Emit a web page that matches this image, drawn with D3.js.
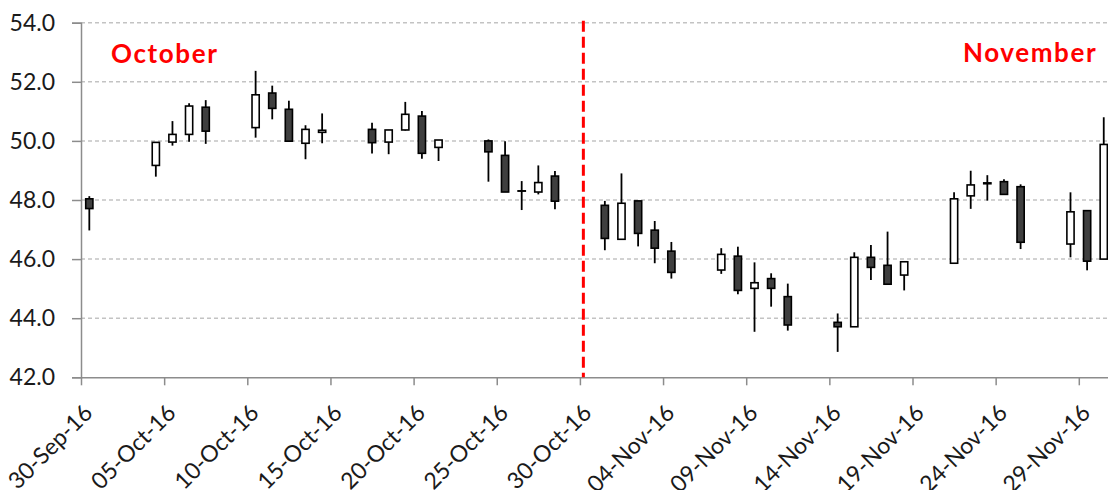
<!DOCTYPE html>
<html>
<head>
<meta charset="utf-8">
<script src="https://cdn.jsdelivr.net/npm/d3@7"></script>
<style>
  html, body { margin: 0; padding: 0; background: #fff; }
  svg { display: block; }
</style>
</head>
<body>
<svg id="chart" width="1108" height="490"></svg>
<script>
const dates = ["2016-09-30","2016-10-04","2016-10-05","2016-10-06","2016-10-07","2016-10-10","2016-10-11","2016-10-12","2016-10-13","2016-10-14",
  "2016-10-17","2016-10-18","2016-10-19","2016-10-20","2016-10-21","2016-10-24","2016-10-25","2016-10-26","2016-10-27","2016-10-28",
  "2016-10-31","2016-11-01","2016-11-02","2016-11-03","2016-11-04","2016-11-07","2016-11-08","2016-11-09","2016-11-10","2016-11-11",
  "2016-11-14","2016-11-15","2016-11-16","2016-11-17","2016-11-18","2016-11-21","2016-11-22","2016-11-23","2016-11-24","2016-11-25",
  "2016-11-28","2016-11-29","2016-11-30"];
const opens  = [48.04,49.17,49.96,50.22,51.14,50.45,51.62,51.07,49.92,50.29, 50.39,49.96,50.37,50.84,49.78,50.00,49.51,48.30,48.27,48.81,
  47.82,46.67,47.97,46.98,46.27,45.63,46.10,45.01,45.34,44.73, 43.86,43.71,46.06,45.79,45.46,45.86,48.14,48.55,48.62,48.45, 46.51,47.64,46.00];
const highs  = [48.13,49.95,50.67,51.27,51.38,52.37,51.87,51.36,50.53,50.93, 50.61,50.37,51.32,51.01,50.03,50.05,49.99,48.64,49.17,48.98,
  47.97,48.90,47.97,47.29,46.58,46.37,46.42,45.89,45.52,45.17, 44.16,46.23,46.48,46.93,45.91,48.26,48.99,48.84,48.70,48.53, 48.26,47.64,50.80];
const lows   = [46.97,48.79,49.84,49.97,49.90,50.11,50.73,49.99,49.38,49.92, 49.57,49.55,50.35,49.40,49.32,48.62,48.27,47.66,48.19,47.69,
  46.30,46.67,46.43,45.86,45.34,45.50,44.81,43.54,44.39,43.58, 42.86,43.71,45.29,45.15,44.94,45.86,47.70,47.98,48.17,46.34, 46.06,45.62,46.00];
const closes = [47.71,49.95,50.22,51.18,50.33,51.56,51.10,49.99,50.39,50.36, 49.94,50.37,50.90,49.58,50.03,49.63,48.27,48.31,48.59,47.96,
  46.70,47.89,46.87,46.37,45.55,46.16,44.94,45.20,45.01,43.77, 43.71,46.06,45.72,45.15,45.91,48.04,48.51,48.58,48.19,46.57, 47.60,45.93,49.88];
const tickDates = ["2016-09-30","2016-10-05","2016-10-10","2016-10-15","2016-10-20","2016-10-25","2016-10-30",
  "2016-11-04","2016-11-09","2016-11-14","2016-11-19","2016-11-24","2016-11-29"];
const yTicks = [42,44,46,48,50,52,54];
const monthLabels = ["October","November"];
const dividerDate = "2016-10-30T05:00:00Z";

(function(){
const parse = d3.utcParse("%Y-%m-%d");
const data = dates.map((d,i)=>({date: parse(d), open: opens[i], high: highs[i], low: lows[i], close: closes[i]}));

const svg = d3.select("#chart");
const plotLeft = 81, plotTop = 22.7, plotBottom = 377.3;
const dayW = 16.63;
const x = d3.scaleUtc().domain([parse("2016-09-30"), parse("2016-12-01")]).range([plotLeft, plotLeft + 62*dayW]);
const y = d3.scaleLinear().domain([42,54]).range([plotBottom, plotTop]);
const font = "Lato, Carlito, 'Liberation Sans', Arial, sans-serif";

// gridlines
svg.append("g").selectAll("line").data(yTicks.filter(t=>t>42)).join("line")
  .attr("x1", plotLeft).attr("x2", 1108)
  .attr("y1", d=>y(d)).attr("y2", d=>y(d))
  .attr("stroke", "#c3c3c3").attr("stroke-width", 1.5).attr("stroke-dasharray", "4,3");

// y axis
const yAxis = svg.append("g").attr("transform", `translate(${plotLeft},0)`)
  .call(d3.axisLeft(y).tickValues(yTicks).tickFormat(d3.format(".1f")).tickSize(9).tickPadding(17));
yAxis.select(".domain").attr("stroke", "#8c8c8c").attr("stroke-width", 1.5);
yAxis.selectAll(".tick line").attr("stroke", "#8c8c8c").attr("stroke-width", 1.5);
yAxis.selectAll(".tick text").attr("font-family", font).attr("font-size", 23).attr("fill", "#1a1a1a");

// x axis
const xAxis = svg.append("g").attr("transform", `translate(0,${plotBottom})`)
  .call(d3.axisBottom(x).tickValues(tickDates.map(parse)).tickFormat(d3.utcFormat("%d-%b-%y")).tickSize(8).tickSizeOuter(0));
xAxis.select(".domain").attr("stroke", "#8c8c8c").attr("stroke-width", 1.5).attr("d", `M${plotLeft},0.5H1108`);
xAxis.selectAll(".tick line").attr("stroke", "#8c8c8c").attr("stroke-width", 1.5);
xAxis.selectAll(".tick text")
  .attr("font-family", font).attr("font-size", 23).attr("fill", "#1a1a1a")
  .attr("text-anchor", "end").attr("dy", 0).attr("y", 0)
  .attr("transform", "translate(12.5,37) rotate(-45)");

// candles
const cx = d => x(d3.utcHour.offset(d.date, 12));
const candles = svg.append("g").selectAll("g").data(data).join("g");
candles.append("line")
  .attr("x1", cx).attr("x2", cx)
  .attr("y1", d=>y(d.high)).attr("y2", d=>y(d.low))
  .attr("stroke", "#000").attr("stroke-width", 1.8);
candles.append("rect")
  .attr("x", d=>cx(d)-3.6).attr("width", 7.2)
  .attr("y", d=>y(Math.max(d.open,d.close)))
  .attr("height", d=>Math.max(0.3, Math.abs(y(d.open)-y(d.close))))
  .attr("fill", d=>d.close>=d.open ? "#ffffff" : "#3f3f3f")
  .attr("stroke", "#000").attr("stroke-width", 1.6);

// divider
svg.append("line")
  .attr("x1", x(new Date(dividerDate))).attr("x2", x(new Date(dividerDate)))
  .attr("y1", plotTop-2).attr("y2", plotBottom)
  .attr("stroke", "#ff0000").attr("stroke-width", 3).attr("stroke-dasharray", "11,5");

// month labels
svg.append("text").text(monthLabels[0]).attr("x", 111).attr("y", 63)
  .attr("font-family", font).attr("font-size", 26).attr("font-weight", "bold")
  .attr("letter-spacing", 1.6).attr("fill", "#ff0000");
svg.append("text").text(monthLabels[1]).attr("x", 963).attr("y", 61.5)
  .attr("font-family", font).attr("font-size", 26).attr("font-weight", "bold")
  .attr("letter-spacing", 1.6).attr("fill", "#ff0000");
})();
</script>
</body>
</html>
